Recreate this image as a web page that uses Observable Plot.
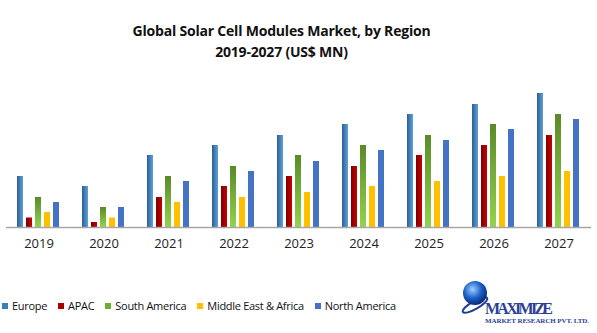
<!DOCTYPE html>
<html>
<head>
<meta charset="utf-8">
<script src="https://cdn.jsdelivr.net/npm/d3@7"></script>
<script src="https://cdn.jsdelivr.net/npm/@observablehq/plot@0.6"></script>
<style>
  html, body { margin: 0; padding: 0; background: #fff; }
  #wrap { position: relative; width: 597px; height: 333px; overflow: hidden; font-family: "Open Sans", sans-serif; }
  #title { position: absolute; left: 0; width: 563px; top: 20px; text-align: center; font-weight: bold; font-size: 14px; line-height: 21px; color: #111; letter-spacing: -0.2px; }
  #chart { position: absolute; left: 0; top: 62px; }
  #legend { position: absolute; left: 2px; top: 298px; font-family: "Open Sans", sans-serif; font-size: 11px; letter-spacing: -0.3px; color: #111; display: flex; white-space: nowrap; }
  #legend .item { display: flex; align-items: center; margin-right: 11px; }
  #legend .sw { width: 6px; height: 6px; margin-right: 4px; }
  #logo { position: absolute; left: 455px; top: 279px; }
</style>
</head>
<body>
<div id="wrap">
  <div id="title">Global Solar Cell Modules Market, by Region<br>2019-2027 (US$ MN)</div>
  <div id="chart"></div>
  <div id="legend"></div>
  <svg id="logo" width="142" height="54">
    <defs>
      <radialGradient id="globe" cx="40%" cy="35%" r="65%">
        <stop offset="0%" stop-color="#9fd0ff"/>
        <stop offset="55%" stop-color="#1e63c8"/>
        <stop offset="100%" stop-color="#0a2a78"/>
      </radialGradient>
    </defs>
    <ellipse cx="20" cy="26" rx="14" ry="4" fill="none" stroke="#1a3f94" stroke-width="2" transform="rotate(-30 20 26)"/>
    <circle cx="20" cy="14" r="12" fill="url(#globe)"/>
    <text x="30" y="35" font-family="Liberation Serif, serif" font-weight="bold" font-size="16" fill="#2b3f99" textLength="68">MAXIMIZE</text>
    <text x="30" y="44" font-family="Liberation Serif, serif" font-weight="bold" font-size="7" fill="#2b3f99" textLength="104">MARKET RESEARCH PVT. LTD.</text>
  </svg>
</div>
<script>
const years = ["2019","2020","2021","2022","2023","2024","2025","2026","2027"];
const regions = ["Europe","APAC","South America","Middle East & Africa","North America"];
const europe = [51, 41, 72, 82, 92, 103, 113, 123, 134];
const apac = [9.5, 5, 30, 41, 51, 61, 72, 82, 92];
const southAmerica = [30, 20, 51, 61, 72, 82, 92, 103, 113];
const mea = [15, 9.5, 25, 30, 35, 41, 46, 51, 56];
const northAmerica = [25, 20, 46, 56, 66, 77, 87, 98, 108];
const legendColors = ["#3a7cc0", "#a80000", "#6fae35", "#ffc000", "#4472c4"];

const series = [europe, apac, southAmerica, mea, northAmerica];
const data = [];
years.forEach((y, i) => regions.forEach((r, j) => data.push({year: y, region: r, value: series[j][i]})));

const fills = {
  "Europe": "url(#gEurope)",
  "APAC": "url(#gApac)",
  "South America": "url(#gSA)",
  "Middle East & Africa": "#ffc000",
  "North America": "#4472c4"
};

const plot = Plot.plot({
  width: 597,
  height: 195,
  marginLeft: 4,
  marginRight: 5,
  marginTop: 20,
  marginBottom: 30,
  fx: {domain: years, padding: 0, label: null, axis: "bottom", tickSize: 0, tickPadding: 11},
  x: {domain: regions, paddingInner: 0.28, paddingOuter: 1.02, axis: null},
  y: {domain: [0, 145], axis: null},
  style: {fontFamily: "Open Sans, sans-serif", fontSize: "13px", color: "#222", overflow: "visible"},
  marks: [
    Plot.barY(data, {fx: "year", x: "region", y: "value", fill: d => fills[d.region]}),
    Plot.ruleY([0], {stroke: "#a6a6a6", strokeWidth: 1.5})
  ]
});

const svg = d3.select(plot);
const defs = svg.insert("defs", ":first-child");
function grad(id, stops, x2, y2) {
  const g = defs.append("linearGradient").attr("id", id)
    .attr("x1", "0").attr("y1", "0").attr("x2", x2).attr("y2", y2);
  stops.forEach(([o, c]) => g.append("stop").attr("offset", o).attr("stop-color", c));
}
grad("gEurope", [["0%", "#2c5e91"], ["100%", "#5da2de"]], "1", "0");
grad("gApac", [["0%", "#7e0000"], ["100%", "#c80000"]], "1", "0");
grad("gSA", [["0%", "#5a8a28"], ["100%", "#93d34e"]], "0", "1");

document.getElementById("chart").appendChild(plot);

const legend = d3.select("#legend");
regions.forEach((r, j) => {
  const it = legend.append("div").attr("class", "item");
  it.append("div").attr("class", "sw").style("background", legendColors[j]);
  it.append("span").text(r);
});
</script>
</body>
</html>
